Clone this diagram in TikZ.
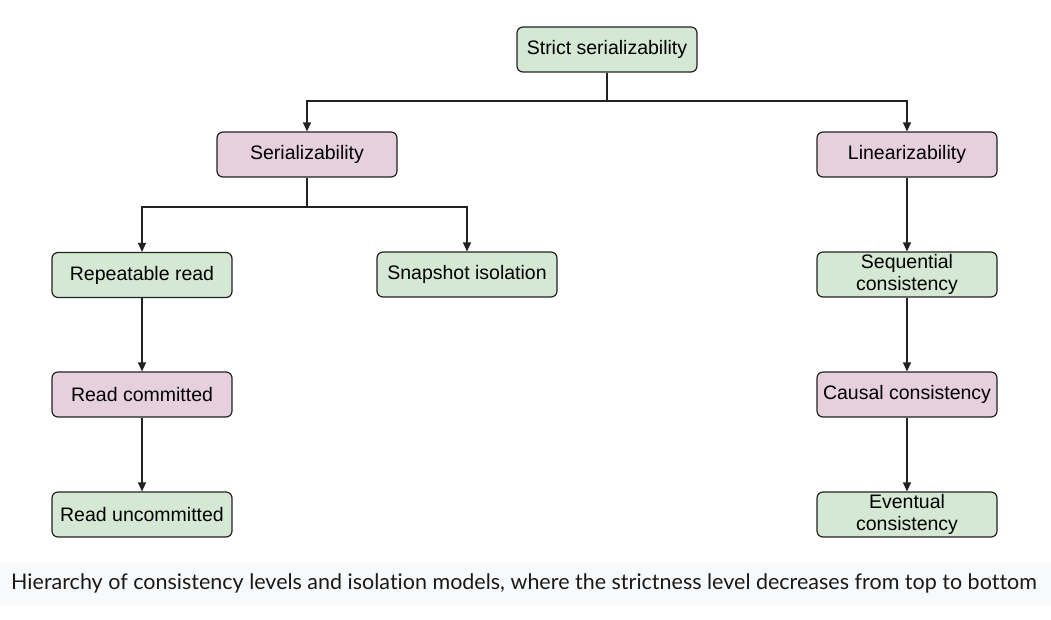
\documentclass[tikz,border=0pt]{standalone}
\usepackage{fontspec}
\setmainfont{Liberation Sans}
\newfontfamily\capfont[Ligatures=NoCommon]{Lato}
\usetikzlibrary{arrows.meta}
\definecolor{gfill}{HTML}{D5E8D4}
\definecolor{pfill}{HTML}{E6D0DE}
\definecolor{edge}{HTML}{222222}
\definecolor{band}{HTML}{F8F9FB}
\begin{document}
\begin{tikzpicture}[x=1pt,y=-1pt,
  box/.style={draw=edge,line width=1.2pt,rounded corners=6pt,minimum width=180pt,minimum height=45pt,inner sep=1pt,align=center,font=\fontsize{19.5}{22.5}\selectfont,text=black},
  gbox/.style={box,fill=gfill},
  pbox/.style={box,fill=pfill},
  conn/.style={draw=edge,line width=1.2pt},
  arr/.style={conn,-{Triangle[length=9pt,width=8pt]}}]
\useasboundingbox (0,0) rectangle (1051,619);
\fill[band] (0,562) rectangle (1051,605);
\node[gbox] (strict) at (607,49.5) {Strict serializability};
\node[pbox] (ser) at (307,154.5) {Serializability};
\node[pbox] (lin) at (907,154.5) {Linearizability};
\node[gbox] (rr) at (142,275) {Repeatable read};
\node[gbox] (si) at (467,274.5) {Snapshot isolation};
\node[gbox] (seq) at (907,274.5) {Sequential\\consistency};
\node[pbox] (rc) at (142,394.5) {Read committed};
\node[pbox] (cc) at (907,394.5) {Causal consistency};
\node[gbox] (ru) at (142,514.5) {Read uncommitted};
\node[gbox] (ev) at (907,514.5) {Eventual\\consistency};
\coordinate (j1) at (607,101);
\coordinate (j2) at (307,207);
\draw[conn] (strict.south) -- (j1);
\draw[arr] (j1) -| (ser.north);
\draw[arr] (j1) -| (lin.north);
\draw[conn] (ser.south) -- (j2);
\draw[arr] (j2) -| (rr.north);
\draw[arr] (j2) -| (si.north);
\draw[arr] (lin) -- (seq);
\draw[arr] (seq) -- (cc);
\draw[arr] (cc) -- (ev);
\draw[arr] (rr) -- (rc);
\draw[arr] (rc) -- (ru);
\node[font=\capfont\fontsize{21.5}{24}\selectfont,text=black!90] (cap) at (524,583) {Hierarchy of consistency levels and isolation models, where the strictness level decreases from top to bottom};
\end{tikzpicture}
\end{document}
